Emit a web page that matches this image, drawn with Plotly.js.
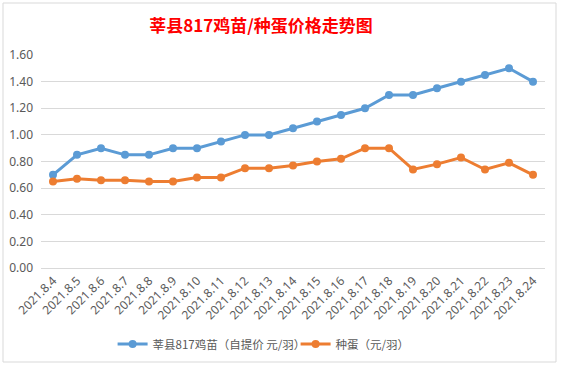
<!DOCTYPE html>
<html>
<head>
<meta charset="utf-8">
<script src="https://cdn.plot.ly/plotly-3.0.1.min.js"></script>
<style>html,body{margin:0;padding:0;background:#fff;}#chart{width:563px;height:366px;}</style>
</head>
<body>
<div id="chart"></div>
<script>
const dates = ["2021.8.4","2021.8.5","2021.8.6","2021.8.7","2021.8.8","2021.8.9","2021.8.10","2021.8.11","2021.8.12","2021.8.13","2021.8.14","2021.8.15","2021.8.16","2021.8.17","2021.8.18","2021.8.19","2021.8.20","2021.8.21","2021.8.22","2021.8.23","2021.8.24"];
const chickPrice = [0.70,0.85,0.90,0.85,0.85,0.90,0.90,0.95,1.00,1.00,1.05,1.10,1.15,1.20,1.30,1.30,1.35,1.40,1.45,1.50,1.40];
const eggPrice = [0.65,0.67,0.66,0.66,0.65,0.65,0.68,0.68,0.75,0.75,0.77,0.80,0.82,0.90,0.90,0.74,0.78,0.83,0.74,0.79,0.70];
const yTicks = [0,0.2,0.4,0.6,0.8,1.0,1.2,1.4,1.6];
const yTickText = ["0.00","0.20","0.40","0.60","0.80","1.00","1.20","1.40","1.60"];
const seriesNames = ["莘县817鸡苗（自提价 元/羽）","种蛋（元/羽）"];
const titleText = "莘县817鸡苗/种蛋价格走势图";

const font = "'Noto Sans CJK SC','Noto Sans',sans-serif";
const traces = [
  {x: dates, y: chickPrice, name: seriesNames[0], type: 'scatter', mode: 'lines+markers',
   line: {color: '#5B9BD5', width: 3}, marker: {color: '#5B9BD5', size: 8}},
  {x: dates, y: eggPrice, name: seriesNames[1], type: 'scatter', mode: 'lines+markers',
   line: {color: '#ED7D31', width: 3}, marker: {color: '#ED7D31', size: 8}}
];
const layout = {
  width: 563, height: 366,
  margin: {l: 41, r: 18, t: 55, b: 98},
  paper_bgcolor: '#ffffff', plot_bgcolor: '#ffffff',
  title: {text: '<b>' + titleText + '</b>', x: 261/563, xref: 'container', xanchor: 'center',
          y: 0.93, yref: 'container', yanchor: 'middle',
          font: {family: font, size: 17, color: '#ff0000'}},
  showlegend: true,
  legend: {orientation: 'h', xref: 'container', yref: 'container', x: 0.2, xanchor: 'left',
           y: 0.06, yanchor: 'middle', font: {family: font, size: 11.5, color: '#595959'},
           itemwidth: 30, traceorder: 'normal', entrywidth: 138, entrywidthmode: 'pixels'},
  xaxis: {type: 'category', range: [-0.5, 20.5], tickangle: -45, showgrid: false,
          showline: true, linecolor: '#d9d9d9', linewidth: 1, ticks: '',
          tickfont: {family: "'Noto Sans',sans-serif", size: 12, color: '#595959'}, fixedrange: true},
  yaxis: {range: [0, 1.6], tickvals: yTicks, ticktext: yTickText, showgrid: true,
          gridcolor: '#d9d9d9', gridwidth: 1, zeroline: false, showline: false, ticks: '',
          ticklabelstandoff: 7,
          tickfont: {family: "'Noto Sans',sans-serif", size: 12, color: '#595959'}, fixedrange: true},
  shapes: [
    {type: 'rect', xref: 'paper', yref: 'paper', x0: -38/504, x1: 515/504, y0: -94/213, y1: 265/213,
     line: {color: '#d9d9d9', width: 1}, fillcolor: 'rgba(0,0,0,0)'}
  ],
  hovermode: false
};
Plotly.newPlot('chart', traces, layout, {displayModeBar: false, staticPlot: true});
</script>
</body>
</html>
